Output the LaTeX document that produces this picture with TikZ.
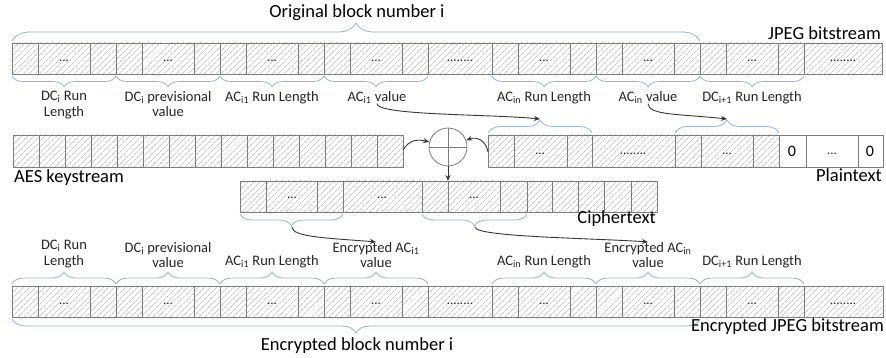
\documentclass[tikz,border=0pt]{standalone}
\usepackage{fontspec}
\setmainfont{Carlito}
\usetikzlibrary{patterns.meta,decorations.pathreplacing,arrows.meta}
\definecolor{bracec}{RGB}{150,180,215}
\definecolor{cellc}{RGB}{125,125,125}
\definecolor{hatchc}{RGB}{170,170,170}
\definecolor{arrc}{RGB}{55,55,55}
\begin{document}
\begin{tikzpicture}[x=1pt,y=-1pt,
  hcell/.style={draw=cellc, line width=0.8pt, pattern={Lines[angle=45,distance=4pt,line width=0.45pt]}, pattern color=hatchc},
  wcell/.style={draw=cellc, line width=0.8pt, fill=white},
  dots/.style={font=\fontsize{13}{14}\selectfont, text=black!85, inner sep=0pt},
  lab/.style={font=\fontsize{14.5}{15.5}\selectfont, align=center, text=black!85, inner sep=0pt},
  bigl/.style={font=\fontsize{18.5}{20}\selectfont, inner sep=0pt},
  brc/.style={draw=bracec, line width=0.8pt, decorate, decoration={brace, amplitude=#1}},
  conn/.style={draw=arrc, line width=0.9pt, -{Stealth[length=6pt,width=5pt]}},
]
\useasboundingbox[fill=white] (0,0) rectangle (886,358);

% ---------------- top strip: JPEG bitstream
\foreach \a/\b in {12/38,38/90,90/116,116/142,142/194,194/220,220/246,246/298,298/324,324/350,350/402,402/428,428/492,492/518,518/570,570/596,596/622,622/674,674/700,700/726,726/778,778/804,804/882}
  \draw[hcell] (\a,43) rectangle (\b,74);
\foreach \x in {64,168,272,376,544,648,752}
  \node[dots] (td\x) at (\x,61) {...};
\node[dots] (tw1) at (460,61) {........};
\node[dots] (tw2) at (843,61) {........};

\node[bigl] (orig) at (357,13) {Original block number i};
\node[bigl, anchor=base east] (jpeg) at (881,40) {JPEG bitstream};
\draw[brc=18] (12,41) -- (700,41);

\foreach \a/\b in {12/116,116/220,220/324,324/428,492/596,596/700,700/804}
  \draw[brc=11] (\b,76) -- (\a,76);

\node[lab, anchor=north] (l1) at (64,91) {DC\textsubscript{i} Run\\Length};
\node[lab, anchor=north] (l2) at (168,91) {DC\textsubscript{i} previsional\\value};
\node[lab, anchor=north] (l3) at (272,91) {AC\textsubscript{i1} Run Length};
\node[lab, anchor=north] (l4) at (377,91) {AC\textsubscript{i1} value};
\node[lab, anchor=north] (l5) at (544,91) {AC\textsubscript{in} Run Length};
\node[lab, anchor=north] (l6) at (648,91) {AC\textsubscript{in} value};
\node[lab, anchor=north] (l7) at (752,91) {DC\textsubscript{i+1} Run Length};

% ---------------- AES keystream
\foreach \i in {0,...,14}
  \draw[hcell] (13+26*\i,135) rectangle (39+26*\i,167);
\node[bigl, anchor=base west] (aes) at (14,183) {AES keystream};

% ---------------- XOR
\node[circle, draw=cellc, line width=0.8pt, minimum size=38pt, inner sep=0pt] (xor) at (448,147) {};
\draw[cellc, line width=0.8pt] (xor.north) -- (xor.south) (xor.west) -- (xor.east);

% ---------------- Plaintext
\foreach \a/\b in {488/514,514/567,567/592,592/675,675/701,701/753,753/779}
  \draw[hcell] (\a,135) rectangle (\b,167);
\foreach \a/\b in {779/806,806/858,858/883}
  \draw[wcell] (\a,135) rectangle (\b,167);
\node[dots] (pd1) at (540,154) {...};
\node[dots] (pd2) at (633,154) {........};
\node[dots] (pd3) at (727,154) {...};
\node[font=\fontsize{16}{18}\selectfont] (z1) at (792,151) {0};
\node[dots] (pd4) at (832,154) {...};
\node[font=\fontsize{16}{18}\selectfont] (z2) at (870,151) {0};
\node[bigl, anchor=base east] (plain) at (882,182) {Plaintext};
\draw[brc=13] (488,133) -- (592,133);
\draw[brc=13] (675,133) -- (779,133);
\coordinate (ptb1) at (540,119);
\coordinate (ptb2) at (727,119);

% ---------------- Ciphertext
\foreach \a/\b in {240/266,266/317,317/343,343/422,422/448,448/500,500/527,527/552,552/578,578/604,604/631,631/657}
  \draw[hcell] (\a,181) rectangle (\b,212);
\node[dots] (cd1) at (292,198) {...};
\node[dots] (cd2) at (382,198) {...};
\node[dots] (cd3) at (474,198) {...};
\node[bigl, anchor=base east] (cipher) at (656,224) {Ciphertext};
\draw[brc=12] (343,214) -- (240,214);
\draw[brc=12] (527,214) -- (422,214);
\coordinate (cb1) at (292,227);
\coordinate (cb2) at (475,227);
\coordinate (ctop) at (448,181);
\coordinate (aesR) at (403,150);
\coordinate (ptL) at (488,152);

% ---------------- bottom strip: Encrypted JPEG bitstream
\foreach \a/\b in {12/38,38/90,90/116,116/142,142/194,194/220,220/246,246/298,298/324,324/350,350/402,402/428,428/492,492/518,518/570,570/596,596/622,622/674,674/700,700/726,726/778,778/804,804/883}
  \draw[hcell] (\a,286) rectangle (\b,317);
\foreach \x in {64,168,272,376,544,648,752}
  \node[dots] (bd\x) at (\x,304) {...};
\node[dots] (bw1) at (460,304) {........};
\node[dots] (bw2) at (843,304) {........};

\foreach \a/\b in {12/116,116/220,220/324,324/428,492/596,596/700,700/804}
  \draw[brc=12] (\a,284) -- (\b,284);
\draw[brc=14] (700,319) -- (12,319);

\node[lab, anchor=south] (m1) at (64,268) {DC\textsubscript{i} Run\\Length};
\node[lab, anchor=south] (m2) at (168,268) {DC\textsubscript{i} previsional\\value};
\node[lab, anchor=south] (m3) at (272,268) {AC\textsubscript{i1} Run Length};
\node[lab, anchor=south] (m4) at (376,268) {Encrypted AC\textsubscript{i1}\\value};
\node[lab, anchor=south] (m5) at (544,268) {AC\textsubscript{in} Run Length};
\node[lab, anchor=south] (m6) at (648,268) {Encrypted AC\textsubscript{in}\\value};
\node[lab, anchor=south] (m7) at (752,268) {DC\textsubscript{i+1} Run Length};

\node[bigl, anchor=base east] (encjpeg) at (884,331) {Encrypted JPEG bitstream};
\node[bigl, anchor=base] (encblk) at (357,350) {Encrypted block number i};

% ---------------- connectors
\draw[conn] (l4.south) .. controls +(0,12) and +(-50,-5) .. (ptb1);
\draw[conn] (l6.south) .. controls +(0,12) and +(-45,-5) .. (ptb2);
\draw[conn] (aesR) .. controls +(6,-10) and +(-12,-3) .. (xor.165);
\draw[conn] (ptL) .. controls +(-2,-12) and +(10,-4) .. (xor.20);
\draw[conn] (xor.south) -- (ctop);
\draw[conn] (cb1) .. controls +(0,10) and +(-50,-4) .. (m4.north);
\draw[conn] (cb2) .. controls +(0,10) and +(-60,-4) .. (m6.north);
\end{tikzpicture}
\end{document}
